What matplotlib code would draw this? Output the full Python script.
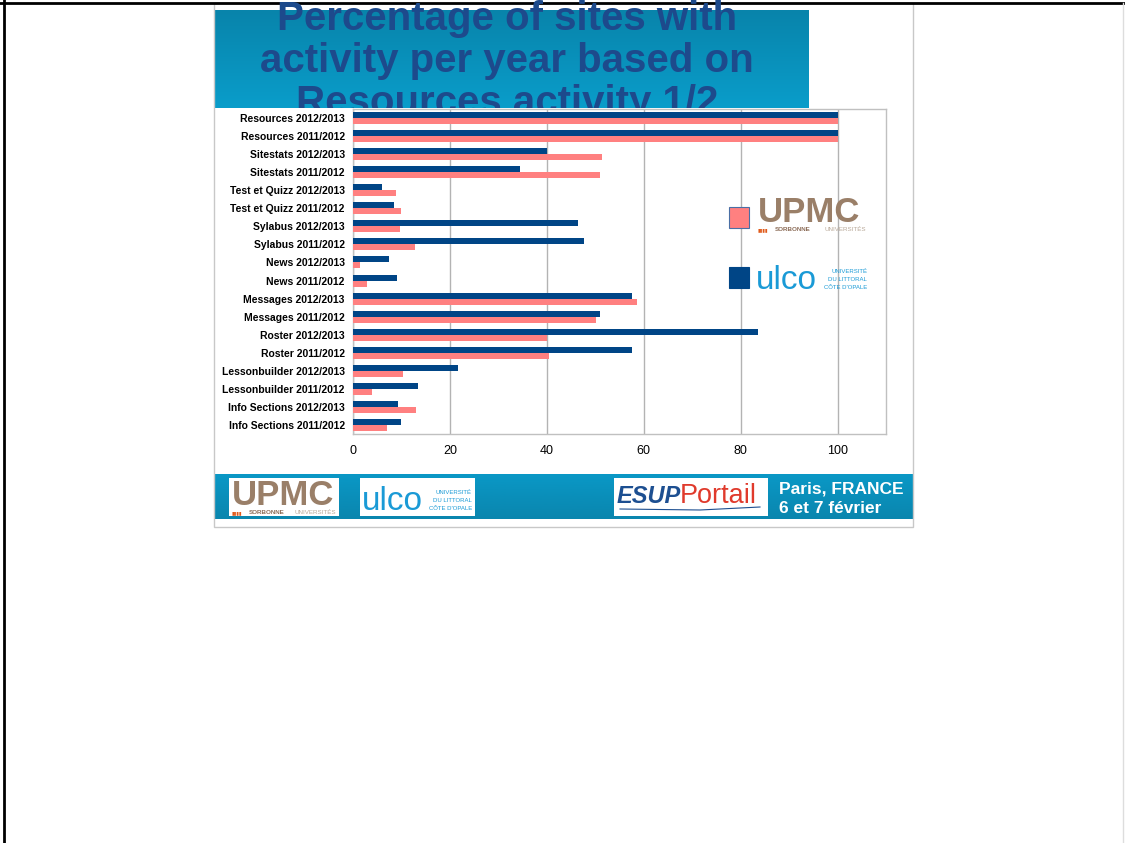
import numpy as np
import matplotlib
matplotlib.use('Agg')
import matplotlib.pyplot as plt
from matplotlib.patches import Rectangle
from matplotlib.lines import Line2D
from matplotlib.colors import LinearSegmentedColormap
from matplotlib.transforms import Bbox, TransformedBbox

# datos
categorias = ['Resources 2012/2013', 'Resources 2011/2012',
              'Sitestats 2012/2013', 'Sitestats 2011/2012',
              'Test et Quizz 2012/2013', 'Test et Quizz 2011/2012',
              'Sylabus 2012/2013', 'Sylabus 2011/2012',
              'News 2012/2013', 'News 2011/2012',
              'Messages 2012/2013', 'Messages 2011/2012',
              'Roster 2012/2013', 'Roster 2011/2012',
              'Lessonbuilder 2012/2013', 'Lessonbuilder 2011/2012',
              'Info Sections 2012/2013', 'Info Sections 2011/2012']
ulco = [100, 100, 40.0, 34.4, 6.0, 8.4, 46.5, 47.6, 7.4, 9.0,
        57.6, 50.9, 83.5, 57.6, 21.6, 13.5, 9.2, 10.0]
upmc = [100, 100, 51.3, 50.9, 8.8, 10.0, 9.8, 12.7, 1.5, 2.8,
        58.7, 50.2, 40.1, 40.5, 10.3, 3.9, 13.1, 7.1]
xticks = [0, 20, 40, 60, 80, 100]

W, H = 1125, 843
AZUL = '#004586'
ROSA = '#ff8080'
TITULO = '#1d4a8c'
FUENTE = 'Liberation Sans'

fig = plt.figure(figsize=(W / 100, H / 100), dpi=100)


def caja(x0, y0, x1, y1):
    # pixeles -> fraccion de figura
    return [x0 / W, 1 - y1 / H, (x1 - x0) / W, (y1 - y0) / H]


def px(x, y):
    return x / W, 1 - y / H


# marco exterior
fig.add_artist(Line2D([0, 1], [1 - 2.5 / H] * 2, color='black', lw=2))
fig.add_artist(Line2D([3.5 / W] * 2, [0, 1], color='black', lw=2))
fig.add_artist(Line2D([1123 / W] * 2, [0, 1 - 3 / H], color='#dddddd', lw=1))
fig.add_artist(Rectangle(px(214, 527), 699 / W, 524 / H, fill=False,
                         ec='#c8c8c8', lw=1, transform=fig.transFigure))

# cabecera con degradado
grad = LinearSegmentedColormap.from_list('g', ['#0884ab', '#0a9dca'])
ax_h = fig.add_axes(caja(215, 10, 809, 108))
ax_h.imshow(np.linspace(0, 1, 100).reshape(-1, 1), cmap=grad, aspect='auto',
            extent=[0, 1, 0, 1])
ax_h.axis('off')

# titulo cortado por el grafico (solo visible por encima de y=108)
recorte = TransformedBbox(Bbox([[0, 1 - 108 / H], [1, 1]]), fig.transFigure)
lineas = ['Percentage of sites with', 'activity per year based on',
          'Resources activity 1/2']
for i, t in enumerate(lineas):
    txt = fig.text(*px(507, 30 + 42 * i), t, ha='center', va='baseline',
                   fontsize=29, fontweight='bold', color=TITULO, family=FUENTE)
    txt.set_clip_box(recorte)
    txt.set_clip_on(True)

# grafico de barras
ax = fig.add_axes(caja(353, 109, 886, 434))
y = np.arange(len(categorias))
ax.barh(y - 1 / 6, ulco, height=1 / 3, color=AZUL, zorder=3)
ax.barh(y + 1 / 6, upmc, height=1 / 3, color=ROSA, zorder=3)
ax.set_ylim(len(categorias) - 0.5, -0.5)
ax.set_xlim(0, 110)
ax.set_xticks(xticks)
ax.set_yticks(y)
ax.set_yticklabels(categorias, fontsize=7.5, fontweight='bold', family=FUENTE)
ax.tick_params(axis='x', length=0, pad=8, labelsize=9)
ax.tick_params(axis='y', length=0, pad=6)
for lab in ax.get_xticklabels():
    lab.set_family(FUENTE)
ax.grid(axis='x', color='#b3b3b3', lw=1, zorder=0)
for s in ax.spines.values():
    s.set_color('#c0c0c0')
    s.set_linewidth(1)

# leyenda con logos
fig.add_artist(Rectangle(px(729, 228), 20 / W, 21 / H, fc=ROSA, ec='#4a6fa5',
                         lw=0.8, transform=fig.transFigure))
fig.add_artist(Rectangle(px(729, 288), 20 / W, 21 / H, fc=AZUL, ec=AZUL,
                         lw=0.8, transform=fig.transFigure))


def logo_upmc(x0, x1, y, tam, z=3):
    fig.text(*px(x0, y), 'UPMC', fontsize=tam, fontweight='bold',
             color='#9a7f68', family=FUENTE, va='baseline', zorder=z)
    fig.text(*px(x0, y + 9), '▮▮▮▮', fontsize=3.5, color='#e05a1a',
             va='baseline', zorder=z)
    fig.text(*px(x0 + 17, y + 9), 'SORBONNE', fontsize=4.5, fontweight='bold',
             color='#8a6a55', va='baseline', family=FUENTE, zorder=z)
    fig.text(*px(x1, y + 9), 'UNIVERSITÉS', fontsize=4.5, color='#b8a898',
             va='baseline', ha='right', family=FUENTE, zorder=z)


def logo_ulco(x0, x1, y, tam, z=3):
    fig.text(*px(x0, y), 'ulco', fontsize=tam, color='#1a9ad6',
             family=FUENTE, va='baseline', zorder=z)
    for k, t in enumerate(['UNIVERSITÉ', 'DU LITTORAL', "CÔTE D'OPALE"]):
        fig.text(*px(x1, y - 16 + 8 * k), t, fontsize=4.3, color='#1a9ad6',
                 va='baseline', ha='right', family=FUENTE, zorder=z)


logo_upmc(758, 866, 222, 25)
logo_ulco(756, 867, 289, 24)

# pie de pagina
grad2 = LinearSegmentedColormap.from_list('g2', ['#0a98c6', '#0a86ae'])
ax_f = fig.add_axes(caja(215, 474, 913, 519))
ax_f.imshow(np.linspace(0, 1, 100).reshape(-1, 1), cmap=grad2, aspect='auto',
            extent=[0, 1, 0, 1])
ax_f.axis('off')
for x0, x1 in [(229, 339), (360, 475), (614, 768)]:
    fig.add_artist(Rectangle(px(x0, 516), (x1 - x0) / W, 38 / H, fc='white',
                             ec='none', transform=fig.transFigure, zorder=5))
logo_upmc(232, 336, 505, 25, z=6)
logo_ulco(362, 472, 510, 24, z=6)
fig.text(*px(617, 503), 'ESUP', fontsize=17, fontweight='bold', style='italic',
         color='#1d4f91', family=FUENTE, va='baseline', zorder=6)
fig.text(*px(680, 503), 'Portail', fontsize=19.5, color='#e03a2c',
         family=FUENTE, va='baseline', zorder=6)
fig.add_artist(Line2D([620 / W, 700 / W, 760 / W],
                      [1 - 509 / H, 1 - 510 / H, 1 - 507 / H],
                      color='#1d4f91', lw=0.8, zorder=6))
fig.text(*px(779, 494), 'Paris, FRANCE', fontsize=12.5, fontweight='bold',
         color='white', family=FUENTE, va='baseline', zorder=6)
fig.text(*px(779, 513), '6 et 7 février', fontsize=12.5, fontweight='bold',
         color='white', family=FUENTE, va='baseline', zorder=6)

fig.savefig('out.png', dpi=100, facecolor='white')
